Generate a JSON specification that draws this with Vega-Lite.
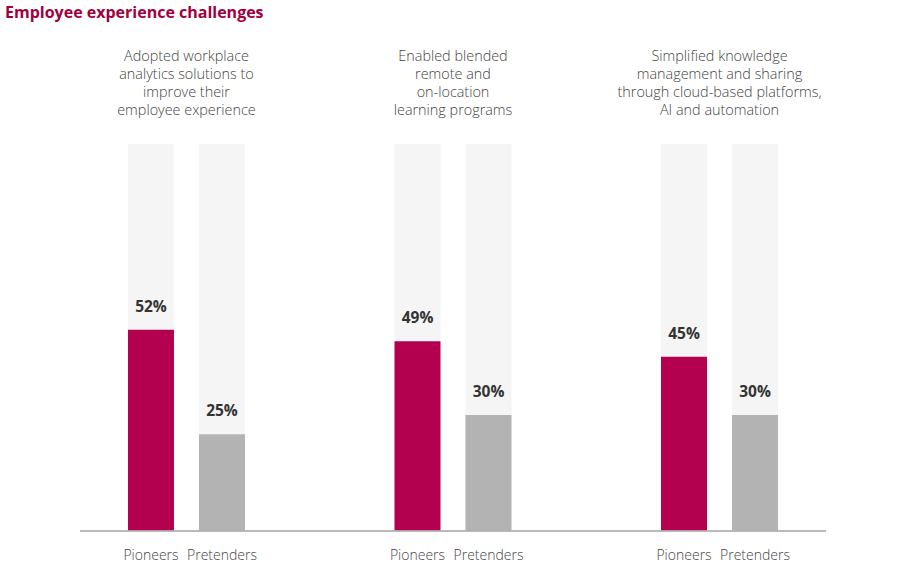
{
  "$schema": "https://vega.github.io/schema/vega-lite/v6.json",
  "width": 746,
  "height": 387,
  "autosize": {"type": "none"},
  "padding": {"left": 80, "top": 144, "right": 74, "bottom": 36},
  "background": "white",
  "title": {
    "text": "Employee experience challenges",
    "anchor": "start",
    "frame": "group",
    "dx": -75,
    "offset": 28,
    "font": "Open Sans",
    "fontSize": 16,
    "fontWeight": "bold",
    "color": "#a1003f"
  },
  "datasets": {
    "bars": [
      {"group": "A", "series": "Pioneers", "value": 0.52},
      {"group": "A", "series": "Pretenders", "value": 0.25},
      {"group": "B", "series": "Pioneers", "value": 0.49},
      {"group": "B", "series": "Pretenders", "value": 0.30},
      {"group": "C", "series": "Pioneers", "value": 0.45},
      {"group": "C", "series": "Pretenders", "value": 0.30}
    ],
    "groups": [
      {"group": "A", "label": ["Adopted workplace", "analytics solutions to", "improve their", "employee experience"]},
      {"group": "B", "label": ["Enabled blended", "remote and", "on-location", "learning programs"]},
      {"group": "C", "label": ["Simplified knowledge", "management and sharing", "through cloud-based platforms,", "AI and automation"]}
    ]
  },
  "config": {"view": {"stroke": null}},
  "layer": [
    {
      "data": {"name": "bars"},
      "mark": {"type": "bar", "color": "#f5f5f5"},
      "encoding": {
        "x": {"field": "group", "type": "nominal", "axis": null, "scale": {"paddingInner": 0.561, "paddingOuter": 0.18, "round": false}},
        "xOffset": {"field": "series", "type": "nominal", "scale": {"paddingInner": 0.352, "paddingOuter": 0, "round": false}},
        "y": {"datum": 1, "type": "quantitative", "axis": null, "scale": {"domain": [0, 1]}}
      }
    },
    {
      "data": {"name": "bars"},
      "mark": {"type": "bar"},
      "encoding": {
        "x": {"field": "group", "type": "nominal"},
        "xOffset": {"field": "series", "type": "nominal"},
        "y": {"field": "value", "type": "quantitative"},
        "color": {"field": "series", "type": "nominal", "legend": null, "scale": {"domain": ["Pioneers", "Pretenders"], "range": ["#b3004f", "#b3b3b3"]}}
      }
    },
    {
      "data": {"name": "bars"},
      "mark": {"type": "text", "dy": -23, "baseline": "middle", "font": "Open Sans", "fontSize": 15.5, "fontWeight": "bold", "color": "#333333"},
      "encoding": {
        "x": {"field": "group", "type": "nominal"},
        "xOffset": {"field": "series", "type": "nominal"},
        "y": {"field": "value", "type": "quantitative"},
        "text": {"field": "value", "type": "quantitative", "format": ".0%"}
      }
    },
    {
      "data": {"name": "bars"},
      "mark": {"type": "text", "dy": 25, "baseline": "middle", "font": "Open Sans", "fontSize": 14, "fontWeight": 300, "color": "#444444"},
      "encoding": {
        "x": {"field": "group", "type": "nominal"},
        "xOffset": {"field": "series", "type": "nominal"},
        "y": {"datum": 0, "type": "quantitative"},
        "text": {"field": "series", "type": "nominal"}
      }
    },
    {
      "data": {"name": "groups"},
      "mark": {"type": "text", "dy": -80, "baseline": "bottom", "lineHeight": 18, "font": "Open Sans", "fontSize": 14.4, "fontWeight": 300, "color": "#444444"},
      "encoding": {
        "x": {"field": "group", "type": "nominal"},
        "y": {"datum": 1, "type": "quantitative"},
        "text": {"field": "label", "type": "nominal"}
      }
    },
    {
      "data": {"name": "groups"},
      "mark": {"type": "rule", "color": "#b0b0b0", "strokeWidth": 1},
      "encoding": {
        "y": {"datum": 0, "type": "quantitative"}
      }
    }
  ]
}
